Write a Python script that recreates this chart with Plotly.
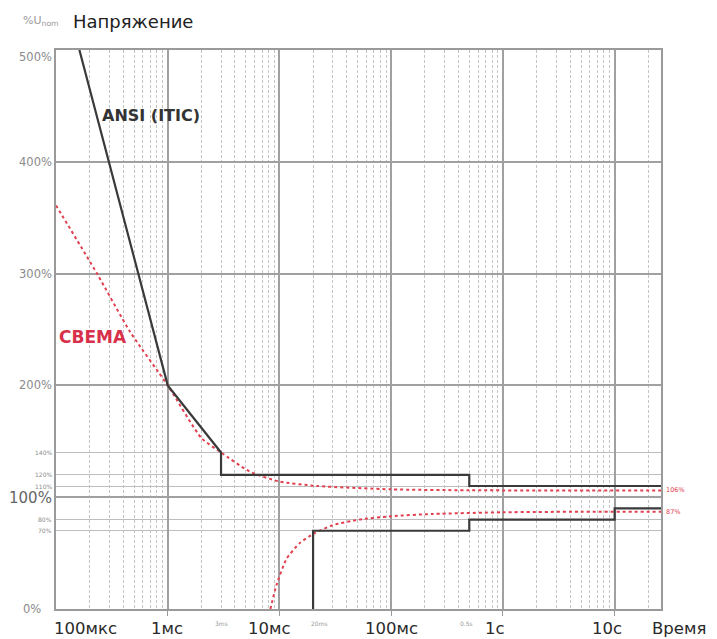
import numpy as np
import plotly.graph_objects as go

# ---------------- data ----------------
# ITIC (ANSI) envelope: time in seconds, voltage in % of U_nom
itic_up_t = [1.62e-4, 1e-3, 3e-3, 3e-3, 0.5, 0.5, 26]
itic_up_v = [500, 200, 140, 120, 120, 110, 110]
itic_lo_t = [0.02, 0.02, 0.5, 0.5, 10, 10, 26]
itic_lo_v = [0, 70, 70, 80, 80, 90, 90]

# CBEMA envelope
cbema_up_t = [1e-4, 2.33e-4, 4.6e-4, 1e-3, 2e-3, 3e-3, 5.4e-3, 1e-2, 2.2e-2, 0.1, 0.5, 26]
cbema_up_v = [361, 300, 248, 200, 153, 140, 123, 114, 110, 107, 106.2, 106]
cbema_lo_t = [8.3e-3, 9.44e-3, 1.16e-2, 1.52e-2, 2.08e-2, 3e-2, 5.2e-2, 0.1, 0.237, 1.0, 5.0, 26]
cbema_lo_v = [0, 22, 45, 59, 68, 75, 80, 83, 85, 86.5, 87, 87]

# axis ticks
x_major = [1e-3, 1e-2, 1e-1, 1, 10]
x_labels_t = [1e-4, 1e-3, 1e-2, 1e-1, 1, 10]
x_labels = ["100мкс", "1мс", "10мс", "100мс", "1с", "10с"]
x_small_t = [3e-3, 2e-2, 0.5]
x_small_labels = ["3ms", "20ms", "0.5s"]
y_major = [100, 200, 300, 400]
y_labels_v = [500, 400, 300, 200, 100, 0]
y_labels = ["500%", "400%", "300%", "200%", "100%", "0%"]
y_small_v = [140, 120, 110, 80, 70]
y_small_labels = ["140%", "120%", "110%", "80%", "70%"]
right_labels_v = [106, 87]
right_labels = ["106%", "87%"]

# ---------------- figure ----------------
x_minor = [m * 10.0 ** e for e in range(-4, 2) for m in range(2, 10) if m * 10.0 ** e < 26]

RED = "#e2404f"
DARK = "#3a3a3a"
FONT = "DejaVu Sans, Liberation Sans, Arial"

fig = go.Figure()
fig.add_trace(go.Scatter(x=cbema_up_t, y=cbema_up_v, mode="lines", line=dict(color=RED, width=2, dash="dot", shape="spline", smoothing=0.6), hoverinfo="skip"))
fig.add_trace(go.Scatter(x=cbema_lo_t, y=cbema_lo_v, mode="lines", line=dict(color=RED, width=2, dash="dot", shape="spline", smoothing=0.6), hoverinfo="skip"))
fig.add_trace(go.Scatter(x=itic_up_t, y=itic_up_v, mode="lines", line=dict(color=DARK, width=2.2), hoverinfo="skip"))
fig.add_trace(go.Scatter(x=itic_lo_t, y=itic_lo_v, mode="lines", line=dict(color=DARK, width=2.2), hoverinfo="skip"))

ann = []
# x labels
x_shifts = [29, -1, -10, 0, -8, -8]
for t, lab, sh in zip(x_labels_t, x_labels, x_shifts):
    ann.append(dict(x=np.log10(t), xref="x", y=0, yref="paper", yanchor="middle", xanchor="center",
                    yshift=-19, xshift=sh, text=lab, showarrow=False,
                    font=dict(family=FONT, size=16.5, color="#2a2a2a")))
ann.append(dict(x=1, xref="paper", y=0, yref="paper", xanchor="left", yanchor="middle", xshift=-11, yshift=-19,
                text="Время", showarrow=False, font=dict(family=FONT, size=16.5, color="#2a2a2a")))
sm_shifts = [0, 6, -3]
for t, lab, sh in zip(x_small_t, x_small_labels, sm_shifts):
    ann.append(dict(x=np.log10(t), xref="x", y=0, yref="paper", yanchor="middle", xanchor="center",
                    yshift=-14, xshift=sh, text=lab, showarrow=False,
                    font=dict(family=FONT, size=6, color="#999999")))
# y labels
for v, lab in zip(y_labels_v, y_labels):
    big = lab == "100%"
    ann.append(dict(x=0, xref="paper", y=v, yref="y", xanchor="right", yanchor="middle",
                    xshift=-13 if v == 0 else -2, yshift=-7 if v == 500 else (-1 if big else 0),
                    text=lab, showarrow=False,
                    font=dict(family=FONT, size=15 if big else 11.5, color="#666666" if big else "#8a8a8a")))
for v, lab in zip(y_small_v, y_small_labels):
    ann.append(dict(x=0, xref="paper", y=v, yref="y", xanchor="right", yanchor="middle", xshift=-2,
                    text=lab, showarrow=False, font=dict(family=FONT, size=6, color="#8a8a8a")))
for v, lab in zip(right_labels_v, right_labels):
    ann.append(dict(x=1, xref="paper", y=v, yref="y", xanchor="left", yanchor="middle", xshift=3,
                    text=lab, showarrow=False, font=dict(family=FONT, size=6.5, color=RED)))
# series labels
ann.append(dict(x=np.log10(7.1e-4), xref="x", y=441, yref="y", text="<b>ANSI (ITIC)</b>", showarrow=False,
                font=dict(family=FONT, size=16, color="#333333")))
ann.append(dict(x=np.log10(2.14e-4), xref="x", y=243, yref="y", text="<b>CBEMA</b>", showarrow=False,
                font=dict(family=FONT, size=17, color="#d8304a")))
# title
ann.append(dict(x=0, xref="paper", y=1, yref="paper", xanchor="left", yanchor="middle", xshift=-35, yshift=29,
                text="%U<sub>nom</sub>", showarrow=False, font=dict(family=FONT, size=11, color="#9a9a9a")))
ann.append(dict(x=0, xref="paper", y=1, yref="paper", xanchor="left", yanchor="middle", xshift=15, yshift=29,
                text="Напряжение", showarrow=False, font=dict(family=FONT, size=18, color="#222222")))

fig.update_layout(
    width=717, height=639,
    margin=dict(l=56, r=56, t=50, b=30),
    paper_bgcolor="white", plot_bgcolor="white",
    showlegend=False,
    annotations=ann,
    xaxis=dict(type="log", range=[-4, np.log10(26)], tickvals=x_major, showticklabels=False,
               ticks="outside", ticklen=5, tickcolor="#999999",
               showgrid=True, gridcolor="#a0a0a0", gridwidth=1.5, zeroline=False,
               showline=True, linecolor="#9a9a9a", linewidth=1.5, mirror=True,
               minor=dict(tickvals=x_minor, showgrid=True, gridcolor="#c4c4c4", gridwidth=1,
                          griddash="3px,2px", ticks="")),
    yaxis=dict(range=[0, 500], tickvals=y_major, showticklabels=False, ticks="",
               showgrid=True, gridcolor="#a0a0a0", gridwidth=1.5, zeroline=False,
               showline=True, linecolor="#9a9a9a", linewidth=1.5, mirror=True,
               minor=dict(tickvals=y_small_v, showgrid=True, gridcolor="#bdbdbd", gridwidth=1, ticks="")),
)

fig.write_html("out.html", config={"displayModeBar": False},
               post_script="document.body.style.margin='0';document.body.style.overflow='hidden';")
